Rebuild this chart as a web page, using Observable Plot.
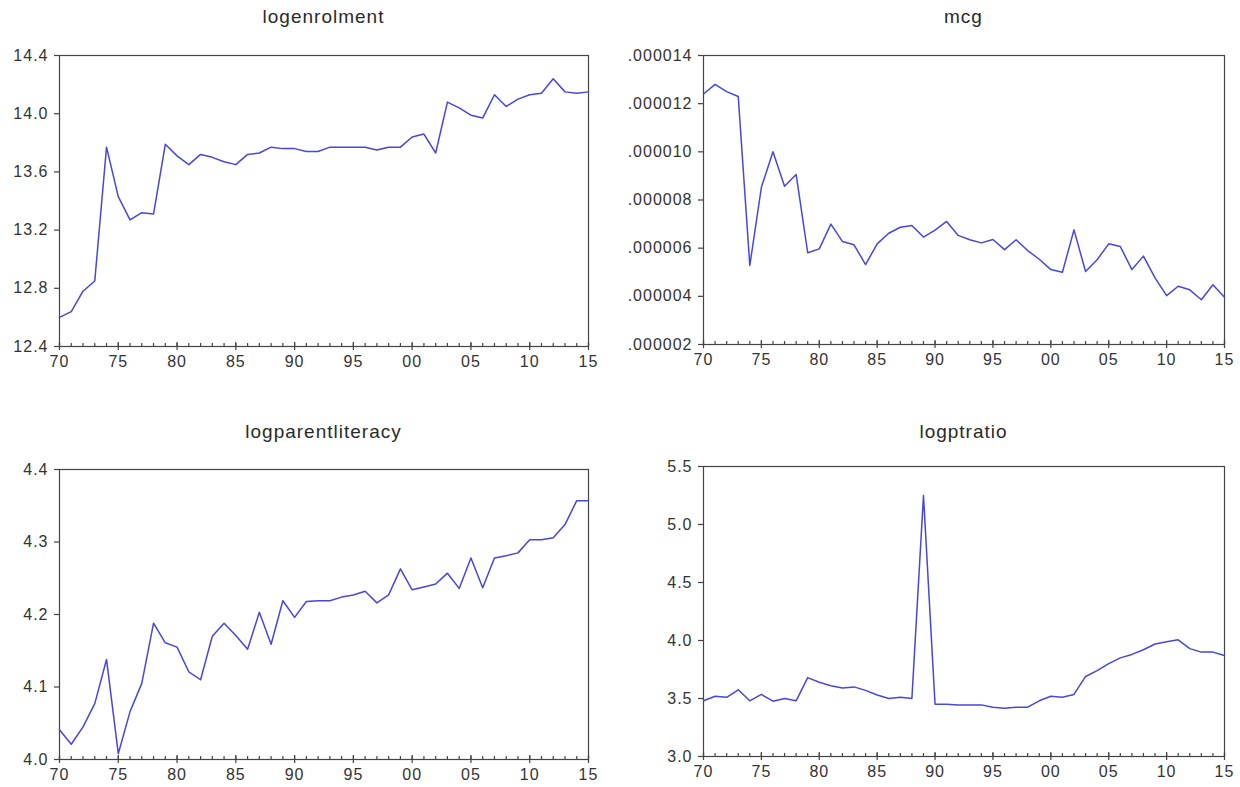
<!DOCTYPE html>
<html>
<head>
<meta charset="utf-8">
<script src="https://cdn.jsdelivr.net/npm/d3@7"></script>
<script src="https://cdn.jsdelivr.net/npm/@observablehq/plot@0.6"></script>
<style>
  html, body { margin: 0; padding: 0; background: #fff; }
  #root { position: relative; width: 1240px; height: 787px; overflow: hidden; font-family: "Liberation Sans", Arial, sans-serif; }
  .panel { position: absolute; }
  .title { position: absolute; font-size: 19px; line-height: 19px; letter-spacing: 1px; color: #2a2a2a; white-space: nowrap; transform: translateX(-50%); }
</style>
</head>
<body>
<div id="root"></div>
<script>
const years = [1970,1971,1972,1973,1974,1975,1976,1977,1978,1979,
  1980,1981,1982,1983,1984,1985,1986,1987,1988,1989,
  1990,1991,1992,1993,1994,1995,1996,1997,1998,1999,
  2000,2001,2002,2003,2004,2005,2006,2007,2008,2009,
  2010,2011,2012,2013,2014,2015];

const logenrolment = [12.60,12.64,12.78,12.85,13.77,13.43,13.27,13.32,13.31,13.79,
  13.71,13.65,13.72,13.70,13.67,13.65,13.72,13.73,13.77,13.76,
  13.76,13.74,13.74,13.77,13.77,13.77,13.77,13.75,13.77,13.77,
  13.84,13.86,13.73,14.08,14.04,13.99,13.97,14.13,14.05,14.10,
  14.13,14.14,14.24,14.15,14.14,14.15];

const mcg = [12.4e-6,12.8e-6,12.5e-6,12.3e-6,5.28e-6,8.53e-6,10.0e-6,8.57e-6,9.06e-6,5.81e-6,
  5.97e-6,7.0e-6,6.28e-6,6.14e-6,5.32e-6,6.18e-6,6.62e-6,6.87e-6,6.94e-6,6.46e-6,
  6.75e-6,7.11e-6,6.53e-6,6.35e-6,6.22e-6,6.36e-6,5.94e-6,6.35e-6,5.90e-6,5.54e-6,
  5.11e-6,5.0e-6,6.76e-6,5.03e-6,5.52e-6,6.18e-6,6.07e-6,5.11e-6,5.67e-6,4.77e-6,
  4.03e-6,4.42e-6,4.27e-6,3.86e-6,4.48e-6,3.96e-6];

const logparentliteracy = [4.041,4.021,4.045,4.077,4.138,4.008,4.066,4.105,4.188,4.161,
  4.155,4.121,4.110,4.170,4.188,4.171,4.152,4.203,4.159,4.219,
  4.196,4.218,4.219,4.219,4.224,4.227,4.232,4.216,4.227,4.263,
  4.234,4.238,4.242,4.257,4.236,4.278,4.237,4.278,4.281,4.285,
  4.303,4.303,4.306,4.324,4.357,4.357];

const logptratio = [3.48,3.52,3.51,3.575,3.48,3.535,3.477,3.50,3.48,3.68,
  3.64,3.61,3.59,3.60,3.57,3.53,3.50,3.51,3.50,5.25,
  3.45,3.45,3.445,3.445,3.445,3.425,3.417,3.425,3.425,3.48,
  3.52,3.51,3.535,3.69,3.74,3.80,3.85,3.88,3.92,3.97,
  3.99,4.006,3.93,3.90,3.90,3.87];

const xMajorTicks = [1970,1975,1980,1985,1990,1995,2000,2005,2010,2015];
const xTickLabels = ["70","75","80","85","90","95","00","05","10","15"];

const ticks1 = [12.4,12.8,13.2,13.6,14.0,14.4];
const ticks2 = [2e-6,4e-6,6e-6,8e-6,10e-6,12e-6,14e-6];
const ticks2Labels = [".000002",".000004",".000006",".000008",".000010",".000012",".000014"];
const ticks3 = [4.0,4.1,4.2,4.3,4.4];
const ticks4 = [3.0,3.5,4.0,4.5,5.0,5.5];

const root = document.getElementById("root");
const lineColor = "#4646e0";
const inkColor = "#333";

function panel(cfg) {
  const data = years.map((yr, i) => ({year: yr, value: cfg.values[i]}));
  const labelOf = (d) => xTickLabels[xMajorTicks.indexOf(d)];
  const chart = Plot.plot({
    width: cfg.width,
    height: cfg.height,
    marginLeft: cfg.mL,
    marginRight: cfg.mR,
    marginTop: cfg.mT,
    marginBottom: cfg.mB,
    style: {fontSize: "16px", fontFamily: "'Liberation Sans', Arial, sans-serif", color: inkColor, letterSpacing: "1px", background: "transparent", overflow: "visible"},
    x: {domain: [1970, 2015]},
    y: {domain: cfg.yDomain},
    marks: [
      Plot.axisY(cfg.yTicks, {tickSize: 5, tickPadding: 6, tickFormat: cfg.yFormat, label: null, stroke: "#444", strokeWidth: 1.2}),
      Plot.axisX(years, {tickSize: -3, tickFormat: () => "", label: null, stroke: "#444", strokeWidth: 1.2}),
      Plot.axisX(xMajorTicks, {tickSize: -4, tickFormat: () => "", label: null, stroke: "#444", strokeWidth: 1.2}),
      Plot.axisX(xMajorTicks, {tickSize: 4, tickPadding: 5, tickFormat: labelOf, label: null, stroke: "#444", strokeWidth: 1.2}),
      Plot.frame({stroke: "#444", strokeWidth: 1.2}),
      Plot.line(data, {x: "year", y: "value", stroke: lineColor, strokeWidth: 1.5})
    ]
  });
  const wrap = document.createElement("div");
  wrap.className = "panel";
  wrap.style.left = cfg.left + "px";
  wrap.style.top = cfg.top + "px";
  wrap.appendChild(chart);
  root.appendChild(wrap);
  const t = document.createElement("div");
  t.className = "title";
  t.textContent = cfg.title;
  t.style.left = (cfg.left + cfg.mL + (cfg.width - cfg.mL - cfg.mR) / 2) + "px";
  t.style.top = cfg.titleTop + "px";
  root.appendChild(t);
}

panel({title: "logenrolment", values: logenrolment, left: 0, top: 40, width: 620, height: 336,
  mL: 59, mR: 32, mT: 15, mB: 30, yDomain: [12.4, 14.4], yTicks: ticks1, yFormat: d => d.toFixed(1), titleTop: 7});
panel({title: "mcg", values: mcg, left: 620, top: 40, width: 620, height: 334,
  mL: 83, mR: 16, mT: 15, mB: 30, yDomain: [2e-6, 14e-6], yTicks: ticks2, yFormat: d => ticks2Labels[ticks2.indexOf(d)], titleTop: 7});
panel({title: "logparentliteracy", values: logparentliteracy, left: 0, top: 450, width: 620, height: 337,
  mL: 59, mR: 32, mT: 19, mB: 28, yDomain: [4.0, 4.4], yTicks: ticks3, yFormat: d => d.toFixed(1), titleTop: 422});
panel({title: "logptratio", values: logptratio, left: 620, top: 450, width: 620, height: 336,
  mL: 83, mR: 16, mT: 16, mB: 30, yDomain: [3.0, 5.5], yTicks: ticks4, yFormat: d => d.toFixed(1), titleTop: 422});
</script>
</body>
</html>
